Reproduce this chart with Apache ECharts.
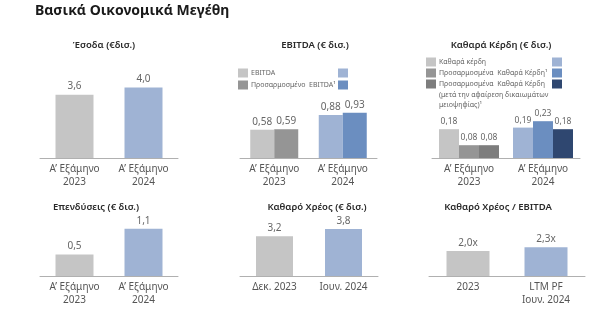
<!DOCTYPE html>
<html>
<head>
<meta charset="utf-8">
<script src="https://cdn.jsdelivr.net/npm/echarts@6/dist/echarts.min.js"></script>
<style>
  html, body { margin: 0; padding: 0; background: #fff; }
  #chart { width: 600px; height: 332px; }
</style>
</head>
<body>
<div id="chart"></div>
<script>
// Key financial figures, six small panels
const halfYearCats = ['Α’ Εξάμηνο\n2023', 'Α’ Εξάμηνο\n2024'];
const debtCats = ['Δεκ. 2023', 'Ιουν. 2024'];
const leverageCats = ['2023', 'LTM PF\nΙουν. 2024'];

const revenue = [3.6, 4.0];
const ebitda = [0.58, 0.88];
const adjEbitda = [0.59, 0.93];
const netProfit = [0.18, 0.19];
const adjNetProfit = [0.08, 0.23];
const adjNetProfitAfterMinorities = [0.08, 0.18];
const capex = [0.5, 1.1];
const netDebt = [3.2, 3.8];
const netDebtToEbitda = [2.0, 2.3];

const mainTitle = 'Βασικά Οικονομικά Μεγέθη';
const panelTitles = ['Έσοδα (€δισ.)', 'EBITDA (€ δισ.)', 'Καθαρά Κέρδη (€ δισ.)',
  'Επενδύσεις (€ δισ.)', 'Καθαρό Χρέος (€ δισ.)', 'Καθαρό Χρέος / EBITDA'];
const ebitdaLegend = ['EBITDA', 'Προσαρμοσμένο  EBITDA¹'];
const profitLegend = ['Καθαρά κέρδη', 'Προσαρμοσμένα  Καθαρά Κέρδη¹',
  'Προσαρμοσμένα  Καθαρά Κέρδη\n(μετά την αφαίρεση δικαιωμάτων\nμειοψηφίας)¹'];

const FONT = '"Noto Sans", "DejaVu Sans", sans-serif';
const GREY = ['#c5c5c5', '#959595', '#7d7d7d'];
const BLUE = ['#9fb3d4', '#6b8ec0', '#2f4770'];
const TXT = '#555';

// panel layout: grid boxes, y-scale max and value-label size
const grids = [
  { left: 40, width: 138, top: 70, height: 88, max: 5, fs: 10 },
  { left: 240, width: 137, top: 99.5, height: 58.5, max: 1.2, fs: 10 },
  { left: 432, width: 148, top: 110, height: 48, max: 0.3, fs: 8.5 },
  { left: 40, width: 138, top: 211.5, height: 64.5, max: 1.5, fs: 10 },
  { left: 240, width: 138, top: 214, height: 62, max: 5, fs: 10 },
  { left: 429, width: 156, top: 238.5, height: 37.5, max: 3, fs: 10 }
];
const cats = [halfYearCats, halfYearCats, halfYearCats, halfYearCats, debtCats, leverageCats];

function barSeries(idx, name, values, shade, width, digits, suffix) {
  return {
    type: 'bar', name, xAxisIndex: idx, yAxisIndex: idx,
    barWidth: width, barGap: '0%',
    data: values.map((v, i) => ({ value: v, itemStyle: { color: i === 0 ? GREY[shade] : BLUE[shade] } })),
    label: {
      show: true, position: 'top', distance: 3, color: '#666', fontFamily: FONT,
      fontSize: grids[idx].fs,
      formatter: (p) => p.value.toFixed(digits).replace('.', ',') + (suffix || '')
    },
    silent: true
  };
}

const series = [
  barSeries(0, 'Έσοδα', revenue, 0, 38, 1),
  barSeries(1, ebitdaLegend[0], ebitda, 0, 24, 2),
  barSeries(1, ebitdaLegend[1], adjEbitda, 1, 24, 2),
  barSeries(2, profitLegend[0], netProfit, 0, 20, 2),
  barSeries(2, profitLegend[1], adjNetProfit, 1, 20, 2),
  barSeries(2, profitLegend[2], adjNetProfitAfterMinorities, 2, 20, 2),
  barSeries(3, 'Επενδύσεις', capex, 0, 38, 1),
  barSeries(4, 'Καθαρό Χρέος', netDebt, 0, 37, 1),
  barSeries(5, 'Καθαρό Χρέος / EBITDA', netDebtToEbitda, 0, 43, 1, 'x')
];

const graphic = [];

// heading and panel titles
graphic.push({
  type: 'text', left: 35, top: 4,
  style: { text: mainTitle, fill: '#1a1a1a', font: 'bold 14px ' + FONT }
});
const titleCenters = [[104, 45], [315, 45], [501, 45], [96, 207], [317, 207], [498, 207]];
panelTitles.forEach((t, i) => {
  graphic.push({
    type: 'text', x: titleCenters[i][0], y: titleCenters[i][1],
    style: { text: t, fill: '#2a2a2a', font: '600 9.5px ' + FONT, textAlign: 'center', textVerticalAlign: 'middle' }
  });
});

// legend swatches beside their captions
function legendRow(x, xRight, y, text, shade) {
  graphic.push({ type: 'rect', left: x, top: y - 4.5, shape: { width: 10, height: 9 }, style: { fill: GREY[shade] } });
  graphic.push({ type: 'rect', left: xRight, top: y - 4.5, shape: { width: 10, height: 9 }, style: { fill: BLUE[shade] } });
  graphic.push({ type: 'text', left: x + 13, top: y - 5, style: { text, fill: '#666', font: '7px ' + FONT, lineHeight: 10.5 } });
}
legendRow(238, 338, 73, ebitdaLegend[0], 0);
legendRow(238, 338, 85, ebitdaLegend[1], 1);
legendRow(426, 552, 62, profitLegend[0], 0);
legendRow(426, 552, 73, profitLegend[1], 1);
legendRow(426, 552, 84, profitLegend[2], 2);

const option = {
  animation: false,
  backgroundColor: '#fff',
  grid: grids.map(g => ({ left: g.left, width: g.width, top: g.top, height: g.height, containLabel: false })),
  xAxis: grids.map((g, i) => ({
    type: 'category', gridIndex: i, data: cats[i],
    axisLine: { lineStyle: { color: '#b0b0b0', width: 1 } },
    axisTick: { show: false },
    axisLabel: { color: TXT, fontFamily: FONT, fontSize: 10, lineHeight: 13, margin: 5, interval: 0 }
  })),
  yAxis: grids.map((g, i) => ({
    type: 'value', gridIndex: i, min: 0, max: g.max, show: false, splitLine: { show: false }
  })),
  series,
  graphic
};

const chart = echarts.init(document.getElementById('chart'), null, { renderer: 'canvas' });
chart.setOption(option);
</script>
</body>
</html>
